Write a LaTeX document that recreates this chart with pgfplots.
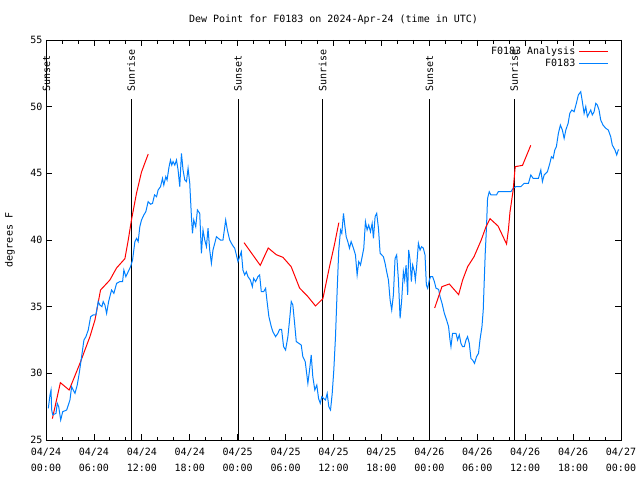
\documentclass[border=0pt]{standalone}
\usepackage{fontspec}
\setmainfont{DejaVu Sans Mono}
\usepackage{pgfplots}
\pgfplotsset{compat=1.18}
\definecolor{anred}{RGB}{255,0,0}
\definecolor{obsblue}{RGB}{0,128,255}
\newcommand{\gfont}{\fontsize{10}{15}\selectfont}
\begin{document}
\begin{tikzpicture}
\begin{axis}[
	at={(0,0)}, anchor=south west,
	scale only axis,
	width=575pt, height=400pt,
	xmin=0, xmax=72,
	ymin=25, ymax=55,
	clip=false,
	xtick={0,6,...,72},
	xticklabels={{04/24\\00:00},{04/24\\06:00},{04/24\\12:00},{04/24\\18:00},
		{04/25\\00:00},{04/25\\06:00},{04/25\\12:00},{04/25\\18:00},
		{04/26\\00:00},{04/26\\06:00},{04/26\\12:00},{04/26\\18:00},{04/27\\00:00}},
	minor xtick={2,4,8,10,14,16,20,22,26,28,32,34,38,40,44,46,50,52,56,58,62,64,68,70},
	ytick={25,30,...,55},
	major tick length=6pt,
	minor tick length=3.5pt,
	every tick/.style={black, line width=0.8pt},
	axis line style={line width=0.8pt},
	tick label style={font=\gfont},
	x tick label style={align=center, yshift=-5pt, font=\fontsize{10}{15.5}\selectfont},
	/pgf/number format/assume math mode=true,
	title={Dew Point for F0183 on 2024-Apr-24 (time in UTC)},
	title style={font=\gfont, at={(axis description cs:0.5,1)}, anchor=center, yshift=14pt},
	ylabel={degrees F},
	every axis y label/.style={font=\gfont, at={([xshift=-36pt]axis description cs:0,0.5)}, rotate=90, anchor=center},
	legend style={draw=none, fill=none, at={(axis description cs:1,1)}, anchor=north east,
		xshift=-9pt, yshift=-3pt, font=\fontsize{10}{12}\selectfont,
		row sep=0pt, nodes={inner ysep=1.5pt, inner xsep=3.5pt}},
	legend cell align=right,
	legend plot pos=right,
	legend image code/.code={\draw[#1] (0pt,0pt) -- (29pt,0pt);},
]
% sunset / sunrise markers
\addplot[black, line width=0.8pt, forget plot] coordinates {(0.05,25) (0.05,50.55)};
\addplot[black, line width=0.8pt, forget plot] coordinates {(10.67,25) (10.67,50.55)};
\addplot[black, line width=0.8pt, forget plot] coordinates {(24.04,25) (24.04,50.55)};
\addplot[black, line width=0.8pt, forget plot] coordinates {(34.65,25) (34.65,50.55)};
\addplot[black, line width=0.8pt, forget plot] coordinates {(48.03,25) (48.03,50.55)};
\addplot[black, line width=0.8pt, forget plot] coordinates {(58.63,25) (58.63,50.55)};

% analysis
\addplot[anred, line width=1pt] coordinates {
(0.8,26.6) (1.8,29.3) (2.9,28.75) (4.25,30.75) (5.5,32.75) (6.13,34.0) (6.83,36.25)
(8.0,37.0) (8.83,37.9) (9.88,38.6) (10.3,40.0) (10.7,41.5) (11.33,43.5) (11.96,45.1) (12.8,46.45)};
\addlegendentry{F0183 Analysis}

% observations
\addplot[obsblue, line width=1pt] coordinates {
(0.29,27.38) (0.5,28.38) (0.63,28.75) (0.71,27.25) (0.84,26.88) (1.25,27.0) (1.41,27.75)
(1.59,27.5) (1.84,26.5) (2.09,27.12) (2.59,27.25) (3.0,28.0) (3.21,29.0) (3.41,28.75)
(3.63,28.5) (3.91,29.12) (4.16,30.0) (4.46,31.25) (4.75,32.5) (5.0,32.75) (5.29,33.25)
(5.59,34.25) (5.91,34.38) (6.25,34.38) (6.54,35.38) (6.75,35.12) (7.0,35.0) (7.16,35.38)
(7.38,35.12) (7.59,34.5) (7.84,35.38) (8.21,36.25) (8.5,36.0) (8.84,36.75) (9.25,36.88)
(9.59,36.88) (9.75,37.75) (10.0,37.25) (10.29,37.62) (10.59,38.0) (10.84,38.5) (11.13,39.88)
(11.34,40.12) (11.54,39.88) (11.75,41.0) (11.96,41.5) (12.25,41.88) (12.5,42.12) (12.79,42.88)
(13.09,42.68) (13.34,42.75) (13.59,43.38) (13.84,43.25) (14.04,43.75) (14.34,44.0) (14.59,44.62)
(14.75,44.12) (15.0,44.75) (15.16,44.5) (15.41,45.5) (15.59,46.0) (15.75,45.62) (15.91,45.88)
(16.13,45.62) (16.34,46.0) (16.54,45.25) (16.75,44.0) (16.96,46.5) (17.16,45.25) (17.38,44.5)
(17.59,44.38) (17.79,45.38) (18.0,44.25) (18.21,41.75) (18.34,40.5) (18.5,41.5) (18.75,41.0)
(18.96,42.25) (19.25,42.0) (19.46,39.0) (19.66,40.75) (19.88,40.0) (20.09,39.5) (20.29,40.88)
(20.5,39.25) (20.71,38.25) (20.91,39.25) (21.13,39.75) (21.34,40.25) (21.59,40.12) (21.84,40.0)
(22.16,40.0) (22.5,41.5) (22.71,40.75) (23.0,40.0) (23.34,39.62) (23.63,39.38) (23.84,38.88)
(24.04,38.38) (24.25,38.75) (24.46,39.12) (24.66,37.75) (24.88,37.38) (25.09,37.62) (25.29,37.25)
(25.59,37.0) (25.84,36.5) (26.0,37.12) (26.25,36.88) (26.54,37.25) (26.75,37.38) (26.96,36.12)
(27.25,36.12) (27.5,36.38) (27.66,35.5) (27.91,34.25) (28.21,33.5) (28.41,33.12) (28.75,32.75)
(29.04,33.0) (29.25,33.3) (29.5,33.3) (29.75,32.0) (30.0,31.75) (30.29,32.75) (30.5,34.0)
(30.71,35.38) (30.91,35.12) (31.13,33.75) (31.34,32.38) (31.66,32.25) (31.96,32.12) (32.16,31.25)
(32.46,30.88) (32.79,29.25) (33.0,30.25) (33.21,31.38) (33.41,29.75) (33.66,28.75) (33.91,29.12)
(34.13,28.12) (34.34,27.75) (34.54,28.25) (34.75,28.12) (35.0,28.0) (35.21,28.5) (35.41,27.5)
(35.63,27.25) (35.84,28.5) (36.04,30.25) (36.25,32.75) (36.46,36.25) (36.66,39.25) (36.88,40.75)
(37.04,40.5) (37.25,42.0) (37.41,41.12) (37.59,40.25) (37.79,39.88) (38.0,39.38) (38.21,39.88)
(38.5,39.38) (38.75,38.88) (38.96,37.38) (39.16,38.38) (39.38,38.12) (39.59,38.75) (39.79,39.38)
(40.0,41.38) (40.21,40.75) (40.41,41.12) (40.63,40.62) (40.84,41.25) (41.0,40.12) (41.21,41.75)
(41.41,42.0) (41.63,40.88) (41.84,39.0) (42.04,38.88) (42.25,38.75) (42.46,38.25) (42.66,37.62)
(42.88,37.0) (43.09,35.5) (43.29,34.75) (43.5,35.88) (43.71,38.62) (43.91,38.88) (44.13,37.0)
(44.34,34.12) (44.54,35.5) (44.75,37.62) (44.91,37.0) (45.09,38.12) (45.29,35.88) (45.41,39.25)
(45.59,38.5) (45.75,36.88) (45.91,38.12) (46.13,37.62) (46.25,37.0) (46.41,38.0) (46.63,39.75)
(46.84,39.25) (47.04,39.5) (47.25,39.38) (47.46,38.88) (47.63,36.62) (47.79,36.38) (48.0,37.0)
(48.16,37.25) (48.41,37.25) (48.63,36.88) (48.84,36.38) (49.16,36.3) (49.34,35.75) (49.59,35.25)
(49.88,34.5) (50.16,34.0) (50.41,33.5) (50.59,32.5) (50.71,32.0) (50.91,33.0) (51.34,33.0)
(51.54,32.5) (51.75,32.88) (51.96,32.25) (52.16,32.0) (52.38,32.0) (52.59,32.5) (52.79,32.75)
(53.0,32.25) (53.21,31.12) (53.41,31.0) (53.66,30.75) (53.91,31.25) (54.16,31.5) (54.34,32.5)
(54.59,33.5) (54.75,34.75) (54.88,37.0) (55.0,39.0) (55.16,41.0) (55.29,43.12) (55.5,43.62)
(55.71,43.38) (56.41,43.38) (56.63,43.62) (58.21,43.62) (58.5,43.88) (58.84,44.0) (59.46,44.0)
(59.88,44.25) (60.41,44.25) (60.71,44.88) (61.0,44.62) (61.66,44.62) (61.96,45.25) (62.16,44.38)
(62.38,44.88) (62.79,45.12) (63.09,45.75) (63.29,46.25) (63.5,46.12) (63.71,46.75) (63.91,47.0)
(64.16,48.0) (64.41,48.62) (64.66,48.25) (64.88,47.62) (65.09,48.25) (65.38,48.75) (65.59,49.5)
(65.84,49.75) (66.13,49.62) (66.41,50.25) (66.66,50.88) (66.96,51.12) (67.16,50.38) (67.38,49.5)
(67.59,50.0) (67.79,49.25) (68.0,49.5) (68.21,49.75) (68.41,49.38) (68.63,49.62) (68.84,50.25)
(69.04,50.12) (69.25,49.75) (69.46,49.0) (69.75,48.62) (70.09,48.38) (70.41,48.25) (70.71,47.75)
(70.91,47.12) (71.25,46.75) (71.46,46.38) (71.66,46.75) (71.75,46.75)};
\addlegendentry{F0183}

\addplot[anred, line width=1pt, forget plot] coordinates {
(24.8,39.8) (26.83,38.1) (27.83,39.4) (28.83,38.9) (29.67,38.7) (30.7,38.0) (31.75,36.4)
(32.8,35.75) (33.75,35.05) (34.67,35.6) (35.5,38.0) (36.1,39.6) (36.67,41.3)};
\addplot[anred, line width=1pt, forget plot] coordinates {
(48.67,34.9) (49.58,36.5) (50.5,36.7) (51.67,35.9) (52.17,37.0) (52.8,38.0) (53.6,38.75)
(54.5,40.0) (55.1,41.0) (55.6,41.6) (56.6,41.05) (57.67,39.7) (57.9,40.75) (58.1,42.1)
(58.5,43.75) (58.75,45.5) (59.67,45.6) (60.7,47.1)};

\node[rotate=90, anchor=west, inner sep=0pt, font=\gfont] at (axis cs:0.05,51.1) {Sunset};
\node[rotate=90, anchor=west, inner sep=0pt, font=\gfont] at (axis cs:10.67,51.1) {Sunrise};
\node[rotate=90, anchor=west, inner sep=0pt, font=\gfont] at (axis cs:24.04,51.1) {Sunset};
\node[rotate=90, anchor=west, inner sep=0pt, font=\gfont] at (axis cs:34.65,51.1) {Sunrise};
\node[rotate=90, anchor=west, inner sep=0pt, font=\gfont] at (axis cs:48.03,51.1) {Sunset};
\node[rotate=90, anchor=west, inner sep=0pt, font=\gfont] at (axis cs:58.63,51.1) {Sunrise};
\end{axis}
\pgfresetboundingbox
\useasboundingbox (-46pt,-40pt) rectangle (594pt,440pt);
\end{tikzpicture}
\end{document}
